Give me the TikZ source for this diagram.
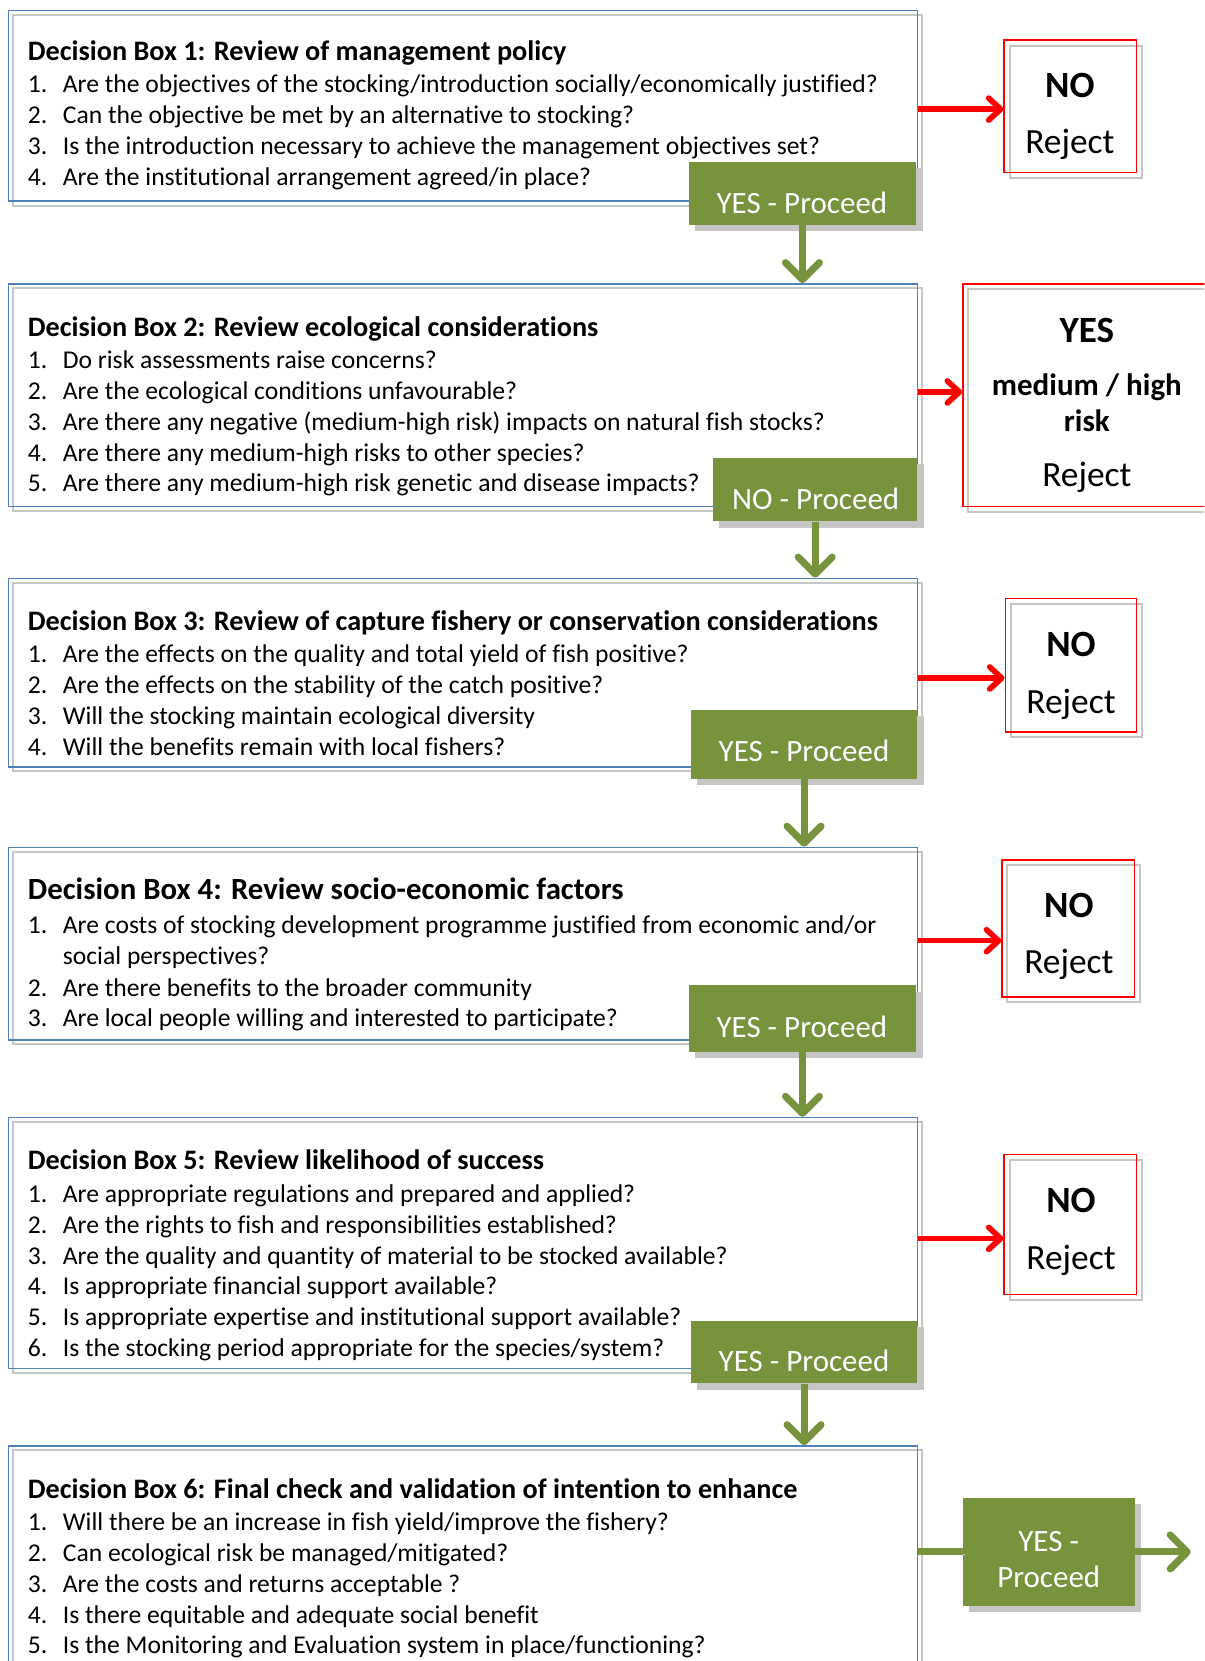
\documentclass[tikz,border=0pt]{standalone}
\usepackage{fontspec}
\setmainfont{Carlito}[Ligatures=NoCommon]
\usetikzlibrary{arrows.meta,fit}
\definecolor{olivegreen}{HTML}{77933C}
\definecolor{boxblue}{HTML}{4F81BD}
\definecolor{shgray}{HTML}{C6C6C6}
\definecolor{rejred}{HTML}{FF0000}
\begin{document}
\begin{tikzpicture}[x=0.5294pt,y=-0.5294pt,
  dbox/.style={draw=boxblue,line width=0.8pt,inner sep=0pt},
  dshadow/.style={draw=shgray,line width=1pt},
  gbox/.style={fill=olivegreen,inner sep=0pt},
  gshadow/.style={fill=shgray},
  rbox/.style={draw=rejred,line width=0.8pt,inner sep=0pt},
  rshadow/.style={draw=shgray,line width=1pt},
  txt/.style={inner sep=0pt,yshift=-2.5pt},
  title/.style={txt,anchor=mid west,font=\fontsize{14.1}{16}\selectfont\bfseries},
  titlebig/.style={txt,anchor=mid west,font=\fontsize{15.4}{18}\selectfont\bfseries},
  num/.style={txt,anchor=mid west,font=\fontsize{12.8}{15}\selectfont},
  item/.style={txt,anchor=mid west,font=\fontsize{12.8}{15}\selectfont},
  gtext/.style={txt,anchor=mid,text=white,font=\fontsize{15.5}{18}\selectfont},
  notext/.style={txt,anchor=mid,yshift=-0.6pt,font=\fontsize{18.5}{21}\selectfont\bfseries},
  rejtext/.style={txt,anchor=mid,yshift=-0.6pt,font=\fontsize{17.7}{20}\selectfont},
  yestext/.style={txt,anchor=mid,yshift=-0.6pt,font=\fontsize{15.5}{18}\selectfont\bfseries},
  garrow/.style={draw=olivegreen,line width=3.5pt,
    -{Straight Barb[length=8.5pt,width=17pt,line cap=round,line join=round]},
    preaction={draw=shgray,transform canvas={shift={(1.2pt,-1.2pt)}}}},
  gline/.style={draw=olivegreen,line width=3.5pt,
    preaction={draw=shgray,transform canvas={shift={(1.2pt,-1.2pt)}}}},
  rarrow/.style={draw=rejred,line width=2.8pt,
    -{Straight Barb[length=6pt,width=11pt,line cap=round,line join=round]},
    preaction={draw=shgray,transform canvas={shift={(1pt,-1pt)}}}}
]
\useasboundingbox (0,0) rectangle (1137,1568);
\clip (0,0) rectangle (1137,1568);

% ---------- decision boxes ----------
\coordinate (b1a) at (8,10);    \coordinate (b1b) at (866,190);
\coordinate (b2a) at (8,268);   \coordinate (b2b) at (866,478);
\coordinate (b3a) at (8,546);   \coordinate (b3b) at (866,724);
\coordinate (b4a) at (8,800);   \coordinate (b4b) at (866,982);
\coordinate (b5a) at (8,1055);  \coordinate (b5b) at (866,1292);
\coordinate (b6a) at (8,1365);  \coordinate (b6b) at (866,1620);

\foreach \i in {1,...,6}{
  \draw[dshadow] ([shift={(4,4)}]b\i a) rectangle ([shift={(4,4)}]b\i b);
  \node[dbox,fit=(b\i a)(b\i b)] (b\i) {};
}

% ---------- reject boxes ----------
\coordinate (r1a) at (948,38);   \coordinate (r1b) at (1073,163);
\coordinate (r2a) at (909,268);  \coordinate (r2b) at (1150,478);
\coordinate (r3a) at (949,565);  \coordinate (r3b) at (1073,691);
\coordinate (r4a) at (946,812);  \coordinate (r4b) at (1071,941);
\coordinate (r5a) at (948,1090); \coordinate (r5b) at (1073,1222);
\foreach \i in {1,...,5}{
  \draw[rshadow] ([shift={(5,5)}]r\i a) rectangle ([shift={(5,5)}]r\i b);
  \node[rbox,fit=(r\i a)(r\i b)] (r\i) {};
}

% ---------- green boxes ----------
\coordinate (g1a) at (650,153);  \coordinate (g1b) at (865,212);
\coordinate (g2a) at (673,432);  \coordinate (g2b) at (866,492);
\coordinate (g3a) at (652,670);  \coordinate (g3b) at (866,735);
\coordinate (g4a) at (650,930);  \coordinate (g4b) at (865,993);
\coordinate (g5a) at (652,1247); \coordinate (g5b) at (866,1306);
\coordinate (g6a) at (909,1414); \coordinate (g6b) at (1071,1516);
\foreach \i in {1,...,6}{
  \fill[gshadow] ([shift={(6,6)}]g\i a) rectangle ([shift={(6,6)}]g\i b);
  \node[gbox,fit=(g\i a)(g\i b)] (g\i) {};
}

% ---------- texts box 1 ----------
\node[title] (t1) at (26,48) {Decision Box 1: Review of management policy};
\node[num] (n11) at (26,78) {1.};  \node[item] (i11) at (59,78) {Are the objectives of the stocking/introduction socially/economically justified?};
\node[num] (n12) at (26,107) {2.}; \node[item] (i12) at (59,107) {Can the objective be met by an alternative to stocking?};
\node[num] (n13) at (26,137) {3.}; \node[item] (i13) at (59,137) {Is the introduction necessary to achieve the management objectives set?};
\node[num] (n14) at (26,166) {4.}; \node[item] (i14) at (59,166) {Are the institutional arrangement agreed/in place?};

% ---------- texts box 2 ----------
\node[title] (t2) at (26,308) {Decision Box 2: Review ecological considerations};
\node[num] (n21) at (26,339) {1.}; \node[item] (i21) at (59,339) {Do risk assessments raise concerns?};
\node[num] (n22) at (26,368) {2.}; \node[item] (i22) at (59,368) {Are the ecological conditions unfavourable?};
\node[num] (n23) at (26,397) {3.}; \node[item] (i23) at (59,397) {Are there any negative (medium-high risk) impacts on natural fish stocks?};
\node[num] (n24) at (26,426) {4.}; \node[item] (i24) at (59,426) {Are there any medium-high risks to other species?};
\node[num] (n25) at (26,455) {5.}; \node[item] (i25) at (59,455) {Are there any medium-high risk genetic and disease impacts?};

% ---------- texts box 3 ----------
\node[title] (t3) at (26,586) {Decision Box 3: Review of capture fishery or conservation considerations};
\node[num] (n31) at (26,616) {1.}; \node[item] (i31) at (59,616) {Are the effects on the quality and total yield of fish positive?};
\node[num] (n32) at (26,645) {2.}; \node[item] (i32) at (59,645) {Are the effects on the stability of the catch positive?};
\node[num] (n33) at (26,675) {3.}; \node[item] (i33) at (59,675) {Will the stocking maintain ecological diversity};
\node[num] (n34) at (26,704) {4.}; \node[item] (i34) at (59,704) {Will the benefits remain with local fishers?};

% ---------- texts box 4 ----------
\node[titlebig] (t4) at (26,840) {Decision Box 4: Review socio-economic factors};
\node[num] (n41) at (26,872) {1.}; \node[item] (i41) at (59,872) {Are costs of stocking development programme justified from economic and/or};
\node[item] (i41b) at (59,901) {social perspectives?};
\node[num] (n42) at (26,931) {2.}; \node[item] (i42) at (59,931) {Are there benefits to the broader community};
\node[num] (n43) at (26,960) {3.}; \node[item] (i43) at (59,960) {Are local people willing and interested to participate?};

% ---------- texts box 5 ----------
\node[title] (t5) at (26,1095) {Decision Box 5: Review likelihood of success};
\node[num] (n51) at (26,1126) {1.}; \node[item] (i51) at (59,1126) {Are appropriate regulations and prepared and applied?};
\node[num] (n52) at (26,1155) {2.}; \node[item] (i52) at (59,1155) {Are the rights to fish and responsibilities established?};
\node[num] (n53) at (26,1184) {3.}; \node[item] (i53) at (59,1184) {Are the quality and quantity of material to be stocked available?};
\node[num] (n54) at (26,1213) {4.}; \node[item] (i54) at (59,1213) {Is appropriate financial support available?};
\node[num] (n55) at (26,1242) {5.}; \node[item] (i55) at (59,1242) {Is appropriate expertise and institutional support available?};
\node[num] (n56) at (26,1271) {6.}; \node[item] (i56) at (59,1271) {Is the stocking period appropriate for the species/system?};

% ---------- texts box 6 ----------
\node[title] (t6) at (26,1405) {Decision Box 6: Final check and validation of intention to enhance};
\node[num] (n61) at (26,1436) {1.}; \node[item] (i61) at (59,1436) {Will there be an increase in fish yield/improve the fishery?};
\node[num] (n62) at (26,1465) {2.}; \node[item] (i62) at (59,1465) {Can ecological risk be managed/mitigated?};
\node[num] (n63) at (26,1494) {3.}; \node[item] (i63) at (59,1494) {Are the costs and returns acceptable ?};
\node[num] (n64) at (26,1523) {4.}; \node[item] (i64) at (59,1523) {Is there equitable and adequate social benefit};
\node[num] (n65) at (26,1552) {5.}; \node[item] (i65) at (59,1552) {Is the Monitoring and Evaluation system in place/functioning?};

% ---------- green texts ----------
\node[gtext] (gt1) at (757,192) {YES - Proceed};
\node[gtext] (gt2) at (770,472) {NO - Proceed};
\node[gtext] (gt3) at (759,710) {YES - Proceed};
\node[gtext] (gt4) at (757,970) {YES - Proceed};
\node[gtext] (gt5) at (759,1285) {YES - Proceed};
\node[gtext] (gt6a) at (990,1455) {YES -};
\node[gtext] (gt6b) at (990,1489) {Proceed};

% ---------- reject texts ----------
\node[notext] (rt1a) at (1010,82) {NO};   \node[rejtext] (rt1b) at (1010,135) {Reject};
\node[notext] (rt2a) at (1026,313) {YES};
\node[yestext] (rt2b) at (1026,363) {medium / high};
\node[yestext] (rt2c) at (1026,397) {risk};
\node[rejtext] (rt2d) at (1026,449) {Reject};
\node[notext] (rt3a) at (1011,609) {NO};  \node[rejtext] (rt3b) at (1011,663) {Reject};
\node[notext] (rt4a) at (1009,856) {NO};  \node[rejtext] (rt4b) at (1009,909) {Reject};
\node[notext] (rt5a) at (1011,1134) {NO}; \node[rejtext] (rt5b) at (1011,1188) {Reject};

% ---------- connectors ----------
\draw[garrow] (g1.south) -- (g1.south |- b2.north);
\draw[garrow] (g2.south) -- (g2.south |- b3.north);
\draw[garrow] (g3.south) -- (g3.south |- b4.north);
\draw[garrow] (g4.south) -- (g4.south |- b5.north);
\draw[garrow] (g5.south) -- (g5.south |- b6.north);

\coordinate (y1) at (0,103);
\coordinate (y2) at (0,370);
\coordinate (y3) at (0,640);
\coordinate (y4) at (0,888);
\coordinate (y5) at (0,1169);
\foreach \i in {1,...,5}{
  \draw[rarrow] (b\i.east |- y\i) -- (r\i.west |- y\i);
}

\coordinate (endp) at (1124,1465);
\draw[gline] (b6.east |- g6.west) -- (g6.west);
\draw[garrow] (g6.east) -- (endp);
\end{tikzpicture}
\end{document}
